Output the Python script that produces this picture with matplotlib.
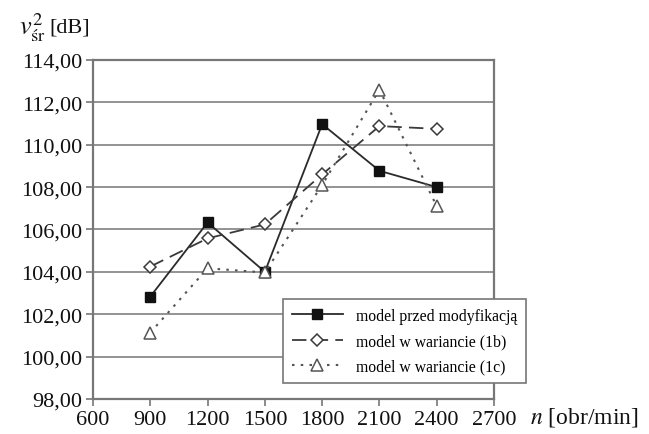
import matplotlib.pyplot as plt
from matplotlib.ticker import FuncFormatter

# Data
n_rpm = [900, 1200, 1500, 1800, 2100, 2400]
v_przed = [102.83, 106.33, 104.0, 110.97, 108.77, 108.0]
v_1b = [104.25, 105.58, 106.24, 108.6, 110.88, 110.75]
v_1c = [101.13, 104.17, 103.97, 108.1, 112.6, 107.1]
labels = ["model przed modyfikacją", "model w wariancie (1b)", "model w wariancie (1c)"]

plt.rcParams['font.family'] = ['Liberation Serif', 'DejaVu Serif']
plt.rcParams['mathtext.fontset'] = 'stix'

fig = plt.figure(figsize=(6.49, 4.35), dpi=100)
ax = fig.add_axes([0.1433, 0.0805, 0.6179, 0.7793])

ax.plot(n_rpm, v_przed, color='#2a2a2a', lw=1.3, ls='-', marker='s', ms=7.5,
        mfc='#111111', mec='#111111', label=labels[0])
ax.plot(n_rpm, v_1b, color='#3a3a3a', lw=1.3, ls=(0, (8, 4)), marker='D', ms=6,
        mfc='white', mec='#3a3a3a', mew=1.1, label=labels[1])
ax.plot(n_rpm, v_1c, color='#555555', lw=1.5, ls=(0, (1.2, 3)), marker='^', ms=8,
        mfc='white', mec='#555555', mew=1.1, label=labels[2])

ax.set_xlim(600, 2700)
ax.set_ylim(98, 114)
ax.set_xticks(range(600, 2701, 300))
ax.set_yticks(range(98, 115, 2))
ax.yaxis.set_major_formatter(FuncFormatter(lambda v, p: f"{v:.2f}".replace('.', ',')))
ax.grid(axis='y', color='#8a8a8a', lw=1.3)
ax.set_axisbelow(True)
for s in ax.spines.values():
    s.set_color('#777777')
    s.set_linewidth(1.6)
ax.tick_params(axis='both', direction='out', length=5, color='#777777', width=1.2,
               labelsize=16, labelcolor='#111111', pad=3)

ax.text(-0.185, 1.05, r'$v^{2}_{\mathrm{śr}}$', transform=ax.transAxes,
        fontsize=19, ha='left', va='bottom', color='#111111')
ax.text(-0.108, 1.07, '[dB]', transform=ax.transAxes,
        fontsize=16, ha='left', va='bottom', color='#111111')
ax.text(1.09, -0.052, r'$n$ [obr/min]', transform=ax.transAxes,
        fontsize=17, ha='left', va='center', color='#111111')

leg = ax.legend(loc='upper left', bbox_to_anchor=(0.454, 0.318), fontsize=11.3,
                frameon=True, fancybox=False, edgecolor='#777777', framealpha=1,
                handlelength=3.3, borderpad=0.55, labelspacing=0.6, numpoints=1)
leg.get_frame().set_linewidth(1.2)

fig.savefig('out.png', dpi=100)
